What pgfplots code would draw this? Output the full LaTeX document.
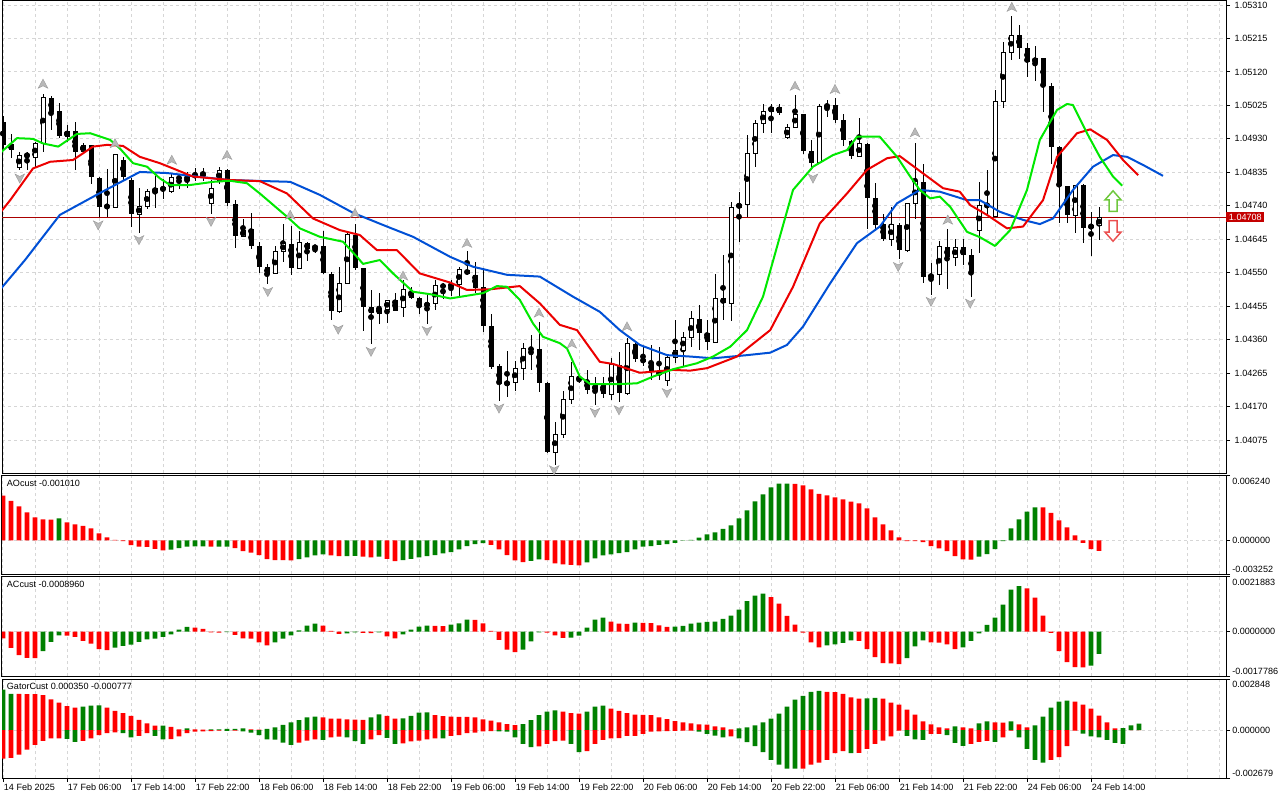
\documentclass[border=0pt]{standalone}
\usepackage{pgfplots}
\usepackage{pgfplotstable}
\pgfplotsset{compat=1.18}
\usepackage{fontspec}
\setmainfont{Liberation Sans}
\newcommand{\mtfont}{\fontsize{6.8pt}{8pt}\selectfont}
\definecolor{mtgreen}{RGB}{0,128,0}
\definecolor{mtred}{RGB}{255,0,0}
\definecolor{jawblue}{RGB}{0,80,214}
\definecolor{teethred}{RGB}{236,0,0}
\definecolor{lipsgreen}{RGB}{0,232,0}
\definecolor{gridgray}{RGB}{214,214,214}
\definecolor{pricered}{RGB}{196,0,0}
\definecolor{pline}{RGB}{170,0,0}

\pgfdeclareplotmark{fracup}{%
  \pgfpathmoveto{\pgfqpoint{0pt}{3.6pt}}%
  \pgfpathlineto{\pgfqpoint{3.6pt}{-3.2pt}}%
  \pgfpathlineto{\pgfqpoint{0pt}{-1.4pt}}%
  \pgfpathlineto{\pgfqpoint{-3.6pt}{-3.2pt}}%
  \pgfpathclose\pgfusepathqfillstroke}
\pgfdeclareplotmark{fracdown}{%
  \pgfpathmoveto{\pgfqpoint{0pt}{-3.6pt}}%
  \pgfpathlineto{\pgfqpoint{3.6pt}{3.2pt}}%
  \pgfpathlineto{\pgfqpoint{0pt}{1.4pt}}%
  \pgfpathlineto{\pgfqpoint{-3.6pt}{3.2pt}}%
  \pgfpathclose\pgfusepathqfillstroke}
\pgfdeclareplotmark{bigup}{%
  \pgfpathmoveto{\pgfqpoint{0pt}{7.8pt}}%
  \pgfpathlineto{\pgfqpoint{6pt}{1pt}}%
  \pgfpathlineto{\pgfqpoint{3pt}{1pt}}%
  \pgfpathlineto{\pgfqpoint{3pt}{-7.6pt}}%
  \pgfpathlineto{\pgfqpoint{-3pt}{-7.6pt}}%
  \pgfpathlineto{\pgfqpoint{-3pt}{1pt}}%
  \pgfpathlineto{\pgfqpoint{-6pt}{1pt}}%
  \pgfpathclose\pgfusepathqfillstroke}
\pgfdeclareplotmark{bigdown}{%
  \pgfpathmoveto{\pgfqpoint{0pt}{-7.8pt}}%
  \pgfpathlineto{\pgfqpoint{6pt}{-1pt}}%
  \pgfpathlineto{\pgfqpoint{3pt}{-1pt}}%
  \pgfpathlineto{\pgfqpoint{3pt}{7.6pt}}%
  \pgfpathlineto{\pgfqpoint{-3pt}{7.6pt}}%
  \pgfpathlineto{\pgfqpoint{-3pt}{-1pt}}%
  \pgfpathlineto{\pgfqpoint{-6pt}{-1pt}}%
  \pgfpathclose\pgfusepathqfillstroke}

\pgfplotsset{
  mtbase/.style={
    scale only axis, width=918pt,
    xmin=-0.125, xmax=152.875,
    scaled y ticks=false, scaled x ticks=false,
    axis line style={black, line width=0.75pt},
    tick align=outside,
    xtick pos=left, ytick pos=right, yticklabel pos=right,
    xtick={0,8,...,136}, minor xtick={4,12,...,148,144,152},
    xmajorgrids, xminorgrids,
    grid style={draw=gridgray, dash pattern=on 2.25pt off 2.25pt, line width=0.75pt},
    minor grid style={draw=gridgray, dash pattern=on 2.25pt off 2.25pt, line width=0.75pt},
    major tick length=3pt, minor tick length=0pt,
    tick style={black, line width=0.75pt},
    xticklabels={},
    ticklabel style={font=\mtfont},
    yticklabel style={anchor=west},
    clip mode=individual,
  },
  notime/.style={every major x tick/.append style={draw=none}},
}

\pgfplotstableread{
i o h l c
0 1.04979 1.04995 1.04898 1.04912
1 1.04917 1.04944 1.04875 1.04900
2 1.04851 1.04894 1.04842 1.04884
3 1.04883 1.04894 1.04842 1.04884
4 1.04879 1.04922 1.04851 1.04917
5 1.04917 1.05059 1.04894 1.05048
6 1.05048 1.05052 1.04955 1.05007
7 1.05009 1.05031 1.04934 1.04938
8 1.04938 1.04969 1.04922 1.04952
9 1.04952 1.04979 1.04842 1.04894
10 1.04894 1.04917 1.04889 1.04912
11 1.04912 1.04915 1.04804 1.04821
12 1.04821 1.04823 1.04709 1.04737
13 1.04737 1.04844 1.04709 1.04739
14 1.04737 1.04886 1.04735 1.04886
15 1.04872 1.04879 1.04813 1.04823
16 1.04813 1.04819 1.04681 1.04717
17 1.04717 1.04790 1.04662 1.04739
18 1.04739 1.04790 1.04734 1.04782
19 1.04780 1.04827 1.04737 1.04790
20 1.04794 1.04818 1.04761 1.04785
21 1.04780 1.04832 1.04777 1.04821
22 1.04823 1.04832 1.04790 1.04816
23 1.04827 1.04837 1.04791 1.04811
24 1.04827 1.04847 1.04811 1.04828
25 1.04830 1.04847 1.04810 1.04831
26 1.04749 1.04813 1.04719 1.04790
27 1.04813 1.04851 1.04804 1.04842
28 1.04842 1.04844 1.04739 1.04747
29 1.04747 1.04756 1.04619 1.04655
30 1.04655 1.04702 1.04652 1.04671
31 1.04673 1.04720 1.04616 1.04627
32 1.04627 1.04638 1.04550 1.04567
33 1.04567 1.04575 1.04518 1.04548
34 1.04548 1.04626 1.04546 1.04612
35 1.04612 1.04688 1.04581 1.04633
36 1.04633 1.04685 1.04545 1.04564
37 1.04564 1.04669 1.04563 1.04636
38 1.04636 1.04637 1.04584 1.04619
39 1.04619 1.04626 1.04607 1.04626
40 1.04626 1.04669 1.04546 1.04548
41 1.04548 1.04552 1.04416 1.04442
42 1.04442 1.04567 1.04438 1.04520
43 1.04520 1.04663 1.04518 1.04659
44 1.04659 1.04690 1.04558 1.04563
45 1.04563 1.04566 1.04387 1.04453
46 1.04453 1.04501 1.04348 1.04436
47 1.04436 1.04494 1.04404 1.04449
48 1.04446 1.04474 1.04408 1.04473
49 1.04473 1.04492 1.04441 1.04444
50 1.04453 1.04529 1.04425 1.04503
51 1.04499 1.04510 1.04475 1.04477
52 1.04477 1.04481 1.04435 1.04453
53 1.04456 1.04492 1.04406 1.04463
54 1.04463 1.04529 1.04444 1.04515
55 1.04515 1.04520 1.04474 1.04509
56 1.04510 1.04529 1.04484 1.04518
57 1.04518 1.04567 1.04484 1.04559
58 1.04559 1.04614 1.04544 1.04545
59 1.04545 1.04581 1.04492 1.04509
60 1.04509 1.04563 1.04383 1.04400
61 1.04400 1.04433 1.04279 1.04285
62 1.04285 1.04293 1.04187 1.04234
63 1.04234 1.04329 1.04198 1.04240
64 1.04240 1.04300 1.04214 1.04279
65 1.04279 1.04351 1.04247 1.04335
66 1.04335 1.04375 1.04276 1.04333
67 1.04333 1.04411 1.04212 1.04238
68 1.04238 1.04240 1.04039 1.04042
69 1.04042 1.04127 1.04004 1.04092
70 1.04092 1.04215 1.04080 1.04191
71 1.04191 1.04297 1.04179 1.04255
72 1.04255 1.04259 1.04237 1.04245
73 1.04245 1.04274 1.04208 1.04217
74 1.04217 1.04255 1.04174 1.04231
75 1.04231 1.04255 1.04194 1.04205
76 1.04205 1.04308 1.04189 1.04288
77 1.04288 1.04325 1.04184 1.04209
78 1.04209 1.04364 1.04203 1.04350
79 1.04350 1.04351 1.04296 1.04307
80 1.04307 1.04340 1.04285 1.04297
81 1.04297 1.04345 1.04245 1.04272
82 1.04272 1.04340 1.04245 1.04259
83 1.04245 1.04316 1.04231 1.04311
84 1.04311 1.04416 1.04296 1.04331
85 1.04331 1.04383 1.04283 1.04368
86 1.04368 1.04442 1.04340 1.04420
87 1.04420 1.04458 1.04331 1.04380
88 1.04380 1.04416 1.04331 1.04354
89 1.04354 1.04546 1.04350 1.04477
90 1.04477 1.04600 1.04416 1.04463
91 1.04463 1.04752 1.04414 1.04736
92 1.04736 1.04780 1.04638 1.04744
93 1.04744 1.04941 1.04709 1.04889
94 1.04889 1.04984 1.04851 1.04974
95 1.04974 1.05031 1.04947 1.05010
96 1.05010 1.05031 1.04947 1.05021
97 1.05021 1.05029 1.04998 1.05004
98 1.04933 1.04972 1.04929 1.04964
99 1.04964 1.05055 1.04963 1.05001
100 1.05001 1.05003 1.04889 1.04896
101 1.04896 1.04929 1.04842 1.04862
102 1.04862 1.05031 1.04861 1.05023
103 1.05023 1.05042 1.04993 1.05026
104 1.05026 1.05045 1.04974 1.04984
105 1.04984 1.05003 1.04912 1.04925
106 1.04925 1.04927 1.04875 1.04881
107 1.04881 1.04990 1.04880 1.04917
108 1.04917 1.04918 1.04676 1.04763
109 1.04763 1.04805 1.04676 1.04688
110 1.04688 1.04717 1.04641 1.04645
111 1.04645 1.04737 1.04626 1.04687
112 1.04687 1.04691 1.04591 1.04614
113 1.04614 1.04747 1.04610 1.04747
114 1.04747 1.04921 1.04704 1.04808
115 1.04808 1.04861 1.04522 1.04537
116 1.04537 1.04577 1.04487 1.04544
117 1.04544 1.04641 1.04515 1.04624
118 1.04624 1.04676 1.04506 1.04595
119 1.04595 1.04645 1.04569 1.04624
120 1.04624 1.04645 1.04572 1.04600
121 1.04600 1.04619 1.04482 1.04553
122 1.04669 1.04810 1.04607 1.04740
123 1.04740 1.04842 1.04711 1.04744
124 1.04711 1.05071 1.04709 1.05037
125 1.05037 1.05206 1.05019 1.05176
126 1.05176 1.05279 1.05154 1.05225
127 1.05225 1.05253 1.05159 1.05189
128 1.05189 1.05203 1.05108 1.05149
129 1.05149 1.05194 1.05094 1.05159
130 1.05159 1.05160 1.05007 1.05081
131 1.05081 1.05089 1.04861 1.04906
132 1.04906 1.04910 1.04692 1.04797
133 1.04797 1.04798 1.04692 1.04714
134 1.04714 1.04799 1.04664 1.04799
135 1.04799 1.04802 1.04635 1.04678
136 1.04678 1.04723 1.04597 1.04685
137 1.04685 1.04736 1.04643 1.04708
}\candles

\pgfplotstableread{
i v g
0 0.00433 0
1 0.00384 0
2 0.00329 0
3 0.00271 0
4 0.00223 0
5 0.00203 0
6 0.00202 0
7 0.00213 1
8 0.00174 0
9 0.00155 0
10 0.00142 0
11 0.00116 0
12 0.00068 0
13 0.00029 0
14 0.00006 0
15 -0.00006 0
16 -0.00045 0
17 -0.00061 0
18 -0.00062 0
19 -0.00081 0
20 -0.00097 0
21 -0.00090 1
22 -0.00074 1
23 -0.00061 1
24 -0.00058 1
25 -0.00057 1
26 -0.00061 0
27 -0.00060 1
28 -0.00059 1
29 -0.00074 0
30 -0.00103 0
31 -0.00119 0
32 -0.00142 0
33 -0.00181 0
34 -0.00191 0
35 -0.00192 0
36 -0.00193 0
37 -0.00181 1
38 -0.00165 1
39 -0.00145 1
40 -0.00136 1
41 -0.00145 0
42 -0.00152 0
43 -0.00151 1
44 -0.00150 1
45 -0.00158 0
46 -0.00165 0
47 -0.00158 1
48 -0.00178 0
49 -0.00200 0
50 -0.00191 1
51 -0.00178 1
52 -0.00165 1
53 -0.00152 1
54 -0.00142 1
55 -0.00126 1
56 -0.00113 1
57 -0.00087 1
58 -0.00055 1
59 -0.00036 1
60 -0.00026 1
61 -0.00042 0
62 -0.00087 0
63 -0.00142 0
64 -0.00194 0
65 -0.00210 0
66 -0.00197 1
67 -0.00184 1
68 -0.00191 0
69 -0.00223 0
70 -0.00232 0
71 -0.00236 0
72 -0.00242 0
73 -0.00213 1
74 -0.00174 1
75 -0.00145 1
76 -0.00136 1
77 -0.00123 1
78 -0.00113 1
79 -0.00087 1
80 -0.00061 1
81 -0.00055 1
82 -0.00042 1
83 -0.00036 1
84 -0.00023 1
85 -0.00003 1
86 0.00006 1
87 0.00026 1
88 0.00058 1
89 0.00077 1
90 0.00113 1
91 0.00145 1
92 0.00213 1
93 0.00291 1
94 0.00378 1
95 0.00446 1
96 0.00513 1
97 0.00549 1
98 0.00550 1
99 0.00548 0
100 0.00533 0
101 0.00494 0
102 0.00452 0
103 0.00436 0
104 0.00417 0
105 0.00397 0
106 0.00375 0
107 0.00358 0
108 0.00310 0
109 0.00223 0
110 0.00155 0
111 0.00097 0
112 0.00029 0
113 -0.00006 0
114 -0.00007 0
115 -0.00016 0
116 -0.00055 0
117 -0.00077 0
118 -0.00103 0
119 -0.00152 0
120 -0.00184 0
121 -0.00185 0
122 -0.00158 1
123 -0.00132 1
124 -0.00084 1
125 -0.00006 1
126 0.00116 1
127 0.00203 1
128 0.00278 1
129 0.00320 1
130 0.00319 0
131 0.00268 0
132 0.00194 0
133 0.00126 0
134 0.00048 0
135 -0.00023 0
136 -0.00084 0
137 -0.00101 0
}\aotab

\pgfplotstableread{
i v g
0 -0.00027 0
1 -0.00065 0
2 -0.00094 0
3 -0.00105 0
4 -0.00106 0
5 -0.00078 1
6 -0.00041 1
7 -0.00015 1
8 -0.00016 0
9 -0.00021 0
10 -0.00037 0
11 -0.00048 0
12 -0.00070 0
13 -0.00074 0
14 -0.00064 1
15 -0.00057 1
16 -0.00052 1
17 -0.00041 1
18 -0.00031 1
19 -0.00028 1
20 -0.00021 1
21 -0.00011 1
22 0.00008 1
23 0.00019 1
24 0.00016 0
25 0.00011 0
26 -0.00003 0
27 -0.00004 0
28 -0.00002 1
29 -0.00013 0
30 -0.00027 0
31 -0.00028 0
32 -0.00043 0
33 -0.00055 0
34 -0.00043 1
35 -0.00028 1
36 -0.00015 1
37 0.00005 1
38 0.00024 1
39 0.00032 1
40 0.00024 0
41 0.00003 0
42 -0.00009 0
43 -0.00007 1
44 -0.00003 1
45 -0.00005 0
46 -0.00006 0
47 -0.00003 1
48 -0.00019 0
49 -0.00027 0
50 -0.00011 1
51 0.00008 1
52 0.00020 1
53 0.00024 1
54 0.00023 0
55 0.00022 0
56 0.00028 1
57 0.00033 1
58 0.00048 1
59 0.00047 0
60 0.00033 0
61 0.00003 0
62 -0.00033 0
63 -0.00072 0
64 -0.00082 0
65 -0.00072 1
66 -0.00039 1
67 -0.00003 1
68 -0.00004 0
69 -0.00015 0
70 -0.00025 0
71 -0.00024 1
72 -0.00016 1
73 0.00016 1
74 0.00048 1
75 0.00056 1
76 0.00040 0
77 0.00032 0
78 0.00031 0
79 0.00036 1
80 0.00035 0
81 0.00034 0
82 0.00025 0
83 0.00019 0
84 0.00020 1
85 0.00023 1
86 0.00032 1
87 0.00036 1
88 0.00039 1
89 0.00040 1
90 0.00051 1
91 0.00064 1
92 0.00088 1
93 0.00122 1
94 0.00144 1
95 0.00152 1
96 0.00138 0
97 0.00112 0
98 0.00063 0
99 0.00028 0
100 -0.00004 0
101 -0.00043 0
102 -0.00063 0
103 -0.00055 1
104 -0.00051 1
105 -0.00045 1
106 -0.00035 1
107 -0.00037 0
108 -0.00070 0
109 -0.00102 0
110 -0.00126 0
111 -0.00127 0
112 -0.00130 0
113 -0.00106 1
114 -0.00059 1
115 -0.00035 1
116 -0.00043 0
117 -0.00044 0
118 -0.00051 0
119 -0.00070 0
120 -0.00063 1
121 -0.00037 1
122 -0.00007 1
123 0.00027 1
124 0.00056 1
125 0.00108 1
126 0.00168 1
127 0.00182 1
128 0.00173 0
129 0.00136 0
130 0.00064 0
131 -0.00005 0
132 -0.00078 0
133 -0.00122 0
134 -0.00142 0
135 -0.00143 0
136 -0.00136 1
137 -0.000896 1
}\actab

\pgfplotstableread{
i up ug lo lg
0 0.00226 1 -0.00160 0
1 0.00202 1 -0.00155 0
2 0.00202 0 -0.00138 0
3 0.00201 0 -0.00110 0
4 0.00200 0 -0.00083 0
5 0.00195 0 -0.00061 0
6 0.00171 0 -0.00046 0
7 0.00153 0 -0.00046 0
8 0.00134 0 -0.00050 1
9 0.00125 0 -0.00066 1
10 0.00131 1 -0.00061 0
11 0.00136 1 -0.00046 0
12 0.00137 1 -0.00028 0
13 0.00125 0 -0.00017 0
14 0.00107 0 -0.00013 0
15 0.00094 0 -0.00017 1
16 0.00079 0 -0.00041 1
17 0.00057 0 -0.00033 0
18 0.00037 0 -0.00018 0
19 0.00024 0 -0.00033 1
20 0.00025 1 -0.00052 1
21 0.00018 0 -0.00051 0
22 0.00004 0 -0.00035 0
23 0.00009 1 -0.00018 0
24 0.00004 0 -0.00009 0
25 0.00002 0 -0.00007 0
26 0.00003 1 -0.00006 0
27 0.00004 1 -0.00004 0
28 0.00006 1 -0.00005 1
29 0.00007 1 -0.00004 0
30 0.00009 1 -0.00007 1
31 0.00004 0 -0.00015 1
32 0.00002 0 -0.00028 1
33 0.00006 1 -0.00052 1
34 0.00015 1 -0.00053 1
35 0.00029 1 -0.00070 1
36 0.00042 1 -0.00083 1
37 0.00055 1 -0.00070 0
38 0.00070 1 -0.00059 0
39 0.00075 1 -0.00052 0
40 0.00070 0 -0.00055 1
41 0.00064 0 -0.00041 0
42 0.00063 0 -0.00037 0
43 0.00059 0 -0.00041 1
44 0.00058 0 -0.00062 1
45 0.00057 0 -0.00077 1
46 0.00070 1 -0.00052 0
47 0.00087 1 -0.00028 0
48 0.00079 0 -0.00044 1
49 0.00064 0 -0.00077 1
50 0.00065 1 -0.00074 0
51 0.00079 1 -0.00064 0
52 0.00097 1 -0.00059 0
53 0.00098 1 -0.00052 0
54 0.00083 0 -0.00046 0
55 0.00077 0 -0.00047 1
56 0.00075 0 -0.00033 0
57 0.00074 0 -0.00028 0
58 0.00073 0 -0.00018 0
59 0.00070 0 -0.00015 0
60 0.00059 0 -0.00007 0
61 0.00052 0 -0.00006 0
62 0.00042 0 -0.00007 1
63 0.00033 0 -0.00009 1
64 0.00028 0 -0.00041 1
65 0.00033 1 -0.00077 1
66 0.00055 1 -0.00096 1
67 0.00083 1 -0.00092 0
68 0.00103 1 -0.00077 0
69 0.00109 1 -0.00062 0
70 0.00103 0 -0.00059 0
71 0.00094 0 -0.00077 1
72 0.00092 0 -0.00123 1
73 0.00103 1 -0.00118 0
74 0.00130 1 -0.00077 0
75 0.00136 1 -0.00055 0
76 0.00119 0 -0.00046 0
77 0.00107 0 -0.00045 0
78 0.00094 0 -0.00033 0
79 0.00086 0 -0.00032 0
80 0.00085 0 -0.00022 0
81 0.00083 0 -0.00009 0
82 0.00070 0 -0.00007 0
83 0.00061 0 -0.00006 0
84 0.00050 0 -0.00005 0
85 0.00042 0 -0.00004 0
86 0.00037 0 -0.00003 0
87 0.00031 0 -0.00009 1
88 0.00030 0 -0.00022 1
89 0.00020 0 -0.00031 1
90 0.00015 0 -0.00041 1
91 0.00004 0 -0.00035 0
92 0.00009 1 -0.00046 1
93 0.00015 1 -0.00068 1
94 0.00026 1 -0.00090 1
95 0.00042 1 -0.00123 1
96 0.00064 1 -0.00166 1
97 0.00092 1 -0.00193 1
98 0.00130 1 -0.00215 1
99 0.00169 1 -0.00216 1
100 0.00191 1 -0.00215 0
101 0.00213 1 -0.00193 0
102 0.00219 1 -0.00182 0
103 0.00213 0 -0.00166 0
104 0.00212 0 -0.00129 0
105 0.00202 0 -0.00118 0
106 0.00182 0 -0.00129 1
107 0.00175 0 -0.00128 0
108 0.00176 1 -0.00105 0
109 0.00180 1 -0.00077 0
110 0.00175 0 -0.00059 0
111 0.00153 0 -0.00035 0
112 0.00142 0 -0.00004 0
113 0.00114 0 -0.00033 1
114 0.00086 0 -0.00052 1
115 0.00048 0 -0.00055 1
116 0.00031 0 -0.00022 0
117 0.00015 0 -0.00021 0
118 0.00009 0 -0.00028 1
119 0.00020 1 -0.00072 1
120 0.00015 0 -0.00088 1
121 0.00009 0 -0.00077 0
122 0.00037 1 -0.00066 0
123 0.00048 1 -0.00061 0
124 0.00042 0 -0.00066 1
125 0.00041 0 -0.00041 0
126 0.00048 1 -0.00004 0
127 0.00031 0 -0.00041 1
128 0.00015 0 -0.00105 1
129 0.00026 1 -0.00166 1
130 0.00075 1 -0.00182 1
131 0.00125 1 -0.00166 0
132 0.00158 1 -0.00151 0
133 0.00164 1 -0.00090 0
134 0.00158 0 -0.00004 0
135 0.00142 0 -0.00020 1
136 0.00120 0 -0.00035 1
137 0.00081 0 -0.00041 1
138 0.00042 0 -0.00055 1
139 0.00009 0 -0.00072 1
140 0.00010 1 -0.000777 1
141 0.00026 1 0 0
142 0.00035 1 0 0
}\gatortab

\begin{document}
\begin{tikzpicture}
\path[use as bounding box, fill=white] (0pt,0pt) rectangle (960pt,600pt);

% ---------------- main price panel ----------------
\begin{axis}[mtbase, notime,
  at={(1.5pt,245.25pt)}, anchor=south west, height=354pt,
  ymin=1.039814, ymax=1.053214,
  ytick={1.04075,1.04170,1.04265,1.04360,1.04455,1.04550,1.04645,1.04740,1.04835,1.04930,1.05025,1.05120,1.05215,1.05310},
  yticklabels={1.04075,1.04170,1.04265,1.04360,1.04455,1.04550,1.04645,1.04740,1.04835,1.04930,1.05025,1.05120,1.05215,1.05310},
  ymajorgrids,
  extra y ticks={1.04708}, extra y tick labels={1.04708},
  extra y tick style={grid=none, yticklabel style={fill=pricered, text=white, inner xsep=2pt, inner ysep=1.6pt, xshift=-3pt}},
]
\addplot[pline, line width=0.75pt, forget plot] coordinates {(-1,1.04708) (154,1.04708)};
% wicks
\addplot[only marks, mark=none, forget plot,
  error bars/.cd, y dir=both, y explicit, error mark=none,
  error bar style={line width=0.75pt, black}]
  table[x=i, y expr={(\thisrow{h}+\thisrow{l})/2}, y error expr={(\thisrow{h}-\thisrow{l})/2}] {\candles};
% bearish bodies
\addplot[only marks, mark=none, forget plot,
  restrict expr to domain={\thisrow{c}-\thisrow{o}}{-1:-0.000001},
  error bars/.cd, y dir=both, y explicit, error mark=none,
  error bar style={line width=3.75pt, black}]
  table[x=i, y expr={(\thisrow{o}+\thisrow{c})/2}, y error expr={(\thisrow{o}-\thisrow{c})/2}] {\candles};
% bullish bodies: outline then white fill
\addplot[only marks, mark=none, forget plot,
  restrict expr to domain={\thisrow{c}-\thisrow{o}}{0:1},
  error bars/.cd, y dir=both, y explicit, error mark=none,
  error bar style={line width=3.75pt, black}]
  table[x=i, y expr={(\thisrow{o}+\thisrow{c})/2}, y error expr={(\thisrow{c}-\thisrow{o})/2+0.0000142}] {\candles};
\addplot[only marks, mark=none, forget plot,
  restrict expr to domain={\thisrow{c}-\thisrow{o}}{0:1},
  error bars/.cd, y dir=both, y explicit, error mark=none,
  error bar style={line width=2.25pt, white}]
  table[x=i, y expr={(\thisrow{o}+\thisrow{c})/2}, y error expr={max((\thisrow{c}-\thisrow{o})/2-0.0000142,0)}] {\candles};
% alligator
\addplot[jawblue, line width=1.5pt, line join=round] coordinates {
(-0.4,1.04501) (2.75,1.04586) (7.1,1.04714) (12.1,1.04776) (17.1,1.04836) (20.5,1.04833) (24.6,1.04822) (28.4,1.04813) (35.9,1.04808) (39.6,1.04771) (43.75,1.04720) (48,1.04681) (51.25,1.04652) (55.9,1.04595) (58.75,1.04567) (63,1.04544) (67.1,1.04539) (71.25,1.04482) (74.6,1.04439) (77.1,1.04387) (79.6,1.04345) (83,1.04316) (85.9,1.04312) (88.75,1.04307) (93,1.04316) (95.9,1.04323) (98,1.04345) (100,1.04397) (103.4,1.04520) (106.75,1.04634) (109.6,1.04681) (111.75,1.04747) (114.6,1.04785) (117.1,1.04780) (120.5,1.04756) (122.1,1.04756) (124.6,1.04723) (127.5,1.04700) (129.6,1.04688) (131.25,1.04704) (133.75,1.04785) (136.25,1.04851) (138.75,1.04884) (140.5,1.04879) (142.5,1.04856) (145,1.04825)};
\addplot[teethred, line width=1.5pt, line join=round] coordinates {
(-0.4,1.04719) (0.9,1.04756) (3.75,1.04846) (5.9,1.04865) (8.75,1.04870) (11.25,1.04908) (13,1.04913) (15,1.04910) (17.1,1.04879) (19.6,1.04861) (21.25,1.04846) (23.75,1.04823) (28.4,1.04813) (32.1,1.04810) (35.5,1.04775) (38.75,1.04704) (42.1,1.04671) (44.6,1.04657) (46.75,1.04614) (49.25,1.04614) (52.1,1.04548) (55.9,1.04522) (58,1.04501) (60.9,1.04503) (64.6,1.04512) (67.1,1.04463) (69.6,1.04402) (71.75,1.04387) (74.6,1.04297) (76.25,1.04291) (79.6,1.04266) (83.75,1.04274) (85.9,1.04272) (88,1.04279) (91.75,1.04312) (95.9,1.04387) (98.75,1.04510) (102.1,1.04690) (105.5,1.04775) (108,1.04842) (110.5,1.04875) (112.1,1.04881) (115,1.04832) (117.5,1.04790) (119.6,1.04780) (120.9,1.04742) (123,1.04714) (125.5,1.04676) (127.5,1.04681) (130,1.04756) (131.75,1.04879) (134.25,1.04946) (135.9,1.04957) (138,1.04927) (140,1.04870) (141.9,1.04827)};
\addplot[lipsgreen, line width=1.5pt, line join=round] coordinates {
(-0.4,1.04889) (1.75,1.04932) (3.75,1.04930) (5,1.04917) (6.9,1.04908) (9.25,1.04944) (10.9,1.04946) (13.4,1.04927) (14.6,1.04903) (16.25,1.04861) (18,1.04851) (19.6,1.04818) (20.9,1.04799) (23.4,1.04799) (26.25,1.04808) (28.4,1.04811) (30.5,1.04804) (32.1,1.04775) (35.5,1.04709) (37.1,1.04676) (39.6,1.04652) (42.5,1.04638) (44.25,1.04595) (45,1.04575) (47.1,1.04586) (48.75,1.04548) (51.25,1.04496) (53.4,1.04489) (55.9,1.04477) (60,1.04492) (61.75,1.04512) (63,1.04510) (64.6,1.04473) (66.25,1.04406) (67.5,1.04368) (69.6,1.04350) (70.5,1.04335) (72.1,1.04255) (73.4,1.04234) (77.1,1.04234) (79.25,1.04236) (81.25,1.04255) (83.75,1.04276) (86.75,1.04293) (88.75,1.04312) (90.9,1.04340) (93,1.04387) (95,1.04482) (97.1,1.04652) (98.75,1.04785) (101.25,1.04851) (103.75,1.04884) (105.5,1.04898) (106.75,1.04936) (109.6,1.04936) (111.75,1.04879) (113.4,1.04823) (114.6,1.04785) (115.9,1.04761) (117.1,1.04766) (118.4,1.04737) (120.5,1.04666) (122.1,1.04651) (124,1.04626) (125.9,1.04671) (128,1.04785) (129.6,1.04927) (131.75,1.05012) (133,1.05029) (133.75,1.05026) (135.5,1.04946) (137.1,1.04879) (138.75,1.04823) (139.9,1.04797)};
% fractals
\addplot[only marks, mark=fracup, mark options={fill=gray!55, draw=gray!80, line width=0.3pt}] coordinates {
(5,1.05086) (14,1.04917) (21.1,1.04870) (28,1.04884) (35.9,1.04714) (44,1.04719) (50,1.04541) (58,1.04634) (67,1.04436) (71.1,1.04348) (78,1.04397) (99,1.05080) (104,1.05071) (114,1.04948) (118.1,1.04700) (126.1,1.05304)};
\addplot[only marks, mark=fracdown, mark options={fill=gray!55, draw=gray!80, line width=0.3pt}] coordinates {
(2.1,1.04818) (11.9,1.04685) (17,1.04643) (26,1.04695) (33.1,1.04496) (41.9,1.04389) (46,1.04326) (53,1.04385) (62,1.04165) (68.9,1.03990) (74,1.04153) (77,1.04160) (83,1.04209) (101.25,1.04818) (111.9,1.04567) (116,1.04468) (120.9,1.04463)};
% signal arrows
\addplot[only marks, mark=bigup, mark options={fill=white, draw={rgb,255:red,110;green,200;blue,60}, line width=1.1pt}] coordinates {(138.75,1.04753)};
\addplot[only marks, mark=bigdown, mark options={fill=white, draw={rgb,255:red,235;green,80;blue,80}, line width=1.1pt}] coordinates {(138.75,1.04669)};
\end{axis}

% ---------------- AO panel ----------------
\begin{axis}[mtbase, notime,
  at={(1.5pt,169.5pt)}, anchor=south west, height=73.5pt,
  ymin=-0.003252, ymax=0.006240,
  ytick={-0.003252,0,0.006240}, yticklabels={}, ymajorgrids,
]
\addplot[ybar, bar width=3.6pt, bar shift=0pt, fill=mtgreen, draw=none,
  restrict expr to domain={\thisrow{g}}{0.5:1.5}] table[x=i, y=v] {\aotab};
\addplot[ybar, bar width=3.6pt, bar shift=0pt, fill=mtred, draw=none,
  restrict expr to domain={\thisrow{g}}{-0.5:0.5}] table[x=i, y=v] {\aotab};
\node[anchor=north west, inner sep=0pt, font=\mtfont] at (rel axis cs:0,1) [xshift=3.5pt, yshift=-3pt] {AOcust -0.001010};
\node[anchor=west, inner sep=0pt, font=\mtfont] at (rel axis cs:1,1) [xshift=4.5pt, yshift=-3.75pt] {0.006240};
\node[anchor=west, inner sep=0pt, font=\mtfont] at (axis cs:152.875,0) [xshift=4.5pt] {0.000000};
\node[anchor=west, inner sep=0pt, font=\mtfont] at (rel axis cs:1,0) [xshift=4.5pt, yshift=3.75pt] {-0.003252};
\end{axis}

% ---------------- AC panel ----------------
\begin{axis}[mtbase, notime,
  at={(1.5pt,93pt)}, anchor=south west, height=74.25pt,
  ymin=-0.0017786, ymax=0.0021883,
  ytick={-0.0017786,0,0.0021883}, yticklabels={}, ymajorgrids,
]
\addplot[ybar, bar width=3.6pt, bar shift=0pt, fill=mtgreen, draw=none,
  restrict expr to domain={\thisrow{g}}{0.5:1.5}] table[x=i, y=v] {\actab};
\addplot[ybar, bar width=3.6pt, bar shift=0pt, fill=mtred, draw=none,
  restrict expr to domain={\thisrow{g}}{-0.5:0.5}] table[x=i, y=v] {\actab};
\node[anchor=north west, inner sep=0pt, font=\mtfont] at (rel axis cs:0,1) [xshift=3.5pt, yshift=-3pt] {ACcust -0.0008960};
\node[anchor=west, inner sep=0pt, font=\mtfont] at (rel axis cs:1,1) [xshift=4.5pt, yshift=-3.75pt] {0.0021883};
\node[anchor=west, inner sep=0pt, font=\mtfont] at (axis cs:152.875,0) [xshift=4.5pt] {0.0000000};
\node[anchor=west, inner sep=0pt, font=\mtfont] at (rel axis cs:1,0) [xshift=4.5pt, yshift=3.75pt] {-0.0017786};
\end{axis}

% ---------------- Gator panel ----------------
\begin{axis}[mtbase,
  at={(1.5pt,16.5pt)}, anchor=south west, height=74.25pt,
  ymin=-0.002679, ymax=0.002848,
  ytick={-0.002679,0,0.002848}, yticklabels={}, ymajorgrids,
  xticklabels={14 Feb 2025,17 Feb 06:00,17 Feb 14:00,17 Feb 22:00,18 Feb 06:00,18 Feb 14:00,18 Feb 22:00,19 Feb 06:00,19 Feb 14:00,19 Feb 22:00,20 Feb 06:00,20 Feb 14:00,20 Feb 22:00,21 Feb 06:00,21 Feb 14:00,21 Feb 22:00,24 Feb 06:00,24 Feb 14:00},
  xticklabel style={anchor=north west, inner xsep=0.5pt, inner ysep=1pt},
]
\addplot[ybar, bar width=3.6pt, bar shift=0pt, fill=mtgreen, draw=none,
  restrict expr to domain={\thisrow{ug}}{0.5:1.5}] table[x=i, y=up] {\gatortab};
\addplot[ybar, bar width=3.6pt, bar shift=0pt, fill=mtred, draw=none,
  restrict expr to domain={\thisrow{ug}}{-0.5:0.5}] table[x=i, y=up] {\gatortab};
\addplot[ybar, bar width=3.6pt, bar shift=0pt, fill=mtgreen, draw=none,
  restrict expr to domain={\thisrow{lg}}{0.5:1.5}] table[x=i, y=lo] {\gatortab};
\addplot[ybar, bar width=3.6pt, bar shift=0pt, fill=mtred, draw=none,
  restrict expr to domain={\thisrow{lg}}{-0.5:0.5}] table[x=i, y=lo] {\gatortab};
\node[anchor=north west, inner sep=0pt, font=\mtfont] at (rel axis cs:0,1) [xshift=3.5pt, yshift=-3pt] {GatorCust 0.000350 -0.000777};
\node[anchor=west, inner sep=0pt, font=\mtfont] at (rel axis cs:1,1) [xshift=4.5pt, yshift=-3.75pt] {0.002848};
\node[anchor=west, inner sep=0pt, font=\mtfont] at (axis cs:152.875,0) [xshift=4.5pt] {0.000000};
\node[anchor=west, inner sep=0pt, font=\mtfont] at (rel axis cs:1,0) [xshift=4.5pt, yshift=3.75pt] {-0.002679};
\end{axis}
\end{tikzpicture}
\end{document}
